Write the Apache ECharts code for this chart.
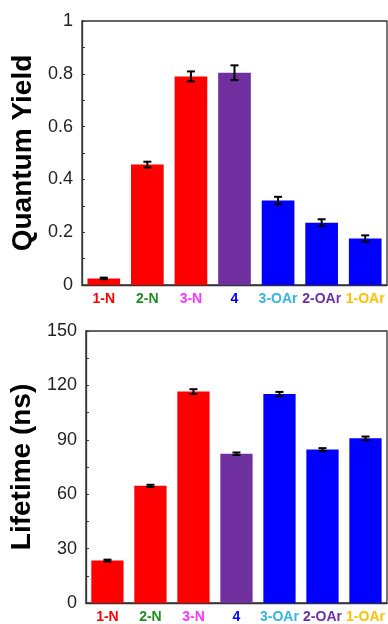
<!DOCTYPE html>
<html>
<head>
<meta charset="utf-8">
<script src="https://cdn.jsdelivr.net/npm/echarts@6/dist/echarts.min.js"></script>
<style>html,body{margin:0;padding:0;background:#fff}#c{width:388px;height:624px}</style>
</head>
<body>
<div id="c"></div>
<script>
const categories = ['1-N', '2-N', '3-N', '4', '3-OAr', '2-OAr', '1-OAr'];
const labelColors = ['#ff0000', '#1e8c1e', '#ff33ff', '#0000ff', '#33b5e5', '#7030a0', '#ffc000'];
const barColors = ['#ff0000', '#ff0000', '#ff0000', '#7030a0', '#0000ff', '#0000ff', '#0000ff'];
const qyValues = [0.025, 0.456, 0.790, 0.804, 0.320, 0.236, 0.176];
const qyErrors = [0.003, 0.011, 0.019, 0.028, 0.014, 0.013, 0.012];
const ltValues = [23.4, 64.6, 116.6, 82.3, 115.2, 84.6, 90.8];
const ltErrors = [0.5, 0.6, 1.3, 0.7, 1.2, 0.8, 1.0];
const qyTicks = {min: 0, max: 1, interval: 0.2};
const ltTicks = {min: 0, max: 150, interval: 30};

const chart = echarts.init(document.getElementById('c'), null, {renderer: 'canvas'});

function barData(vals) {
  return vals.map((v, i) => ({value: v, itemStyle: {color: barColors[i]}}));
}
function errData(vals, errs) {
  return vals.map((v, i) => [i, v - errs[i], v + errs[i]]);
}
function errRender(params, api) {
  const x = api.value(0);
  const lo = api.coord([x, api.value(1)]);
  const hi = api.coord([x, api.value(2)]);
  const hw = 4;
  const style = {stroke: '#000', lineWidth: 2};
  return {
    type: 'group',
    children: [
      {type: 'line', shape: {x1: lo[0], y1: lo[1], x2: hi[0], y2: hi[1]}, style: style},
      {type: 'line', shape: {x1: lo[0] - hw, y1: lo[1], x2: lo[0] + hw, y2: lo[1]}, style: style},
      {type: 'line', shape: {x1: hi[0] - hw, y1: hi[1], x2: hi[0] + hw, y2: hi[1]}, style: style}
    ]
  };
}
function xAxisCfg(gi) {
  return {
    type: 'category', gridIndex: gi, data: categories,
    axisLine: {lineStyle: {color: '#333', width: 1.3}},
    axisTick: {show: false},
    axisLabel: {
      margin: 7, fontSize: 14, fontWeight: 'bold', fontFamily: 'Liberation Sans, Arial, sans-serif',
      color: (val, idx) => labelColors[categories.indexOf(val)],
      interval: 0
    }
  };
}
function yAxisCfg(gi, name, t, fmt) {
  return {
    type: 'value', gridIndex: gi, min: t.min, max: t.max, interval: t.interval,
    name: name, nameLocation: 'middle', nameGap: 44,
    nameTextStyle: {fontSize: 28, fontWeight: 'bold', color: '#000', fontFamily: 'Liberation Sans, Arial, sans-serif'},
    axisLine: {show: true, lineStyle: {color: '#333', width: 1.3}},
    axisTick: {show: true, inside: true, length: 3, lineStyle: {color: '#333'}},
    minorTick: {show: true, splitNumber: 2, length: 3, lineStyle: {color: '#333'}},
    splitLine: {show: false},
    axisLabel: {fontSize: 18, color: '#222', margin: 9, fontFamily: 'Liberation Sans, Arial, sans-serif', formatter: fmt}
  };
}

chart.setOption({
  animation: false,
  grid: [
    {left: 82, top: 21, right: 1, bottom: 339, show: true, borderColor: '#333', borderWidth: 1.3, containLabel: false},
    {left: 84, top: 331, right: 1, bottom: 19, show: true, borderColor: '#333', borderWidth: 1.3, containLabel: false}
  ],
  xAxis: [xAxisCfg(0), xAxisCfg(1)],
  yAxis: [
    yAxisCfg(0, 'Quantum Yield', qyTicks, v => String(Math.round(v * 10) / 10)),
    yAxisCfg(1, 'Lifetime (ns)', ltTicks, v => String(v))
  ],
  series: [
    {type: 'bar', xAxisIndex: 0, yAxisIndex: 0, data: barData(qyValues), barWidth: '75%'},
    {type: 'custom', xAxisIndex: 0, yAxisIndex: 0, data: errData(qyValues, qyErrors), renderItem: errRender, z: 10},
    {type: 'bar', xAxisIndex: 1, yAxisIndex: 1, data: barData(ltValues), barWidth: '75%'},
    {type: 'custom', xAxisIndex: 1, yAxisIndex: 1, data: errData(ltValues, ltErrors), renderItem: errRender, z: 10}
  ]
});
</script>
</body>
</html>
